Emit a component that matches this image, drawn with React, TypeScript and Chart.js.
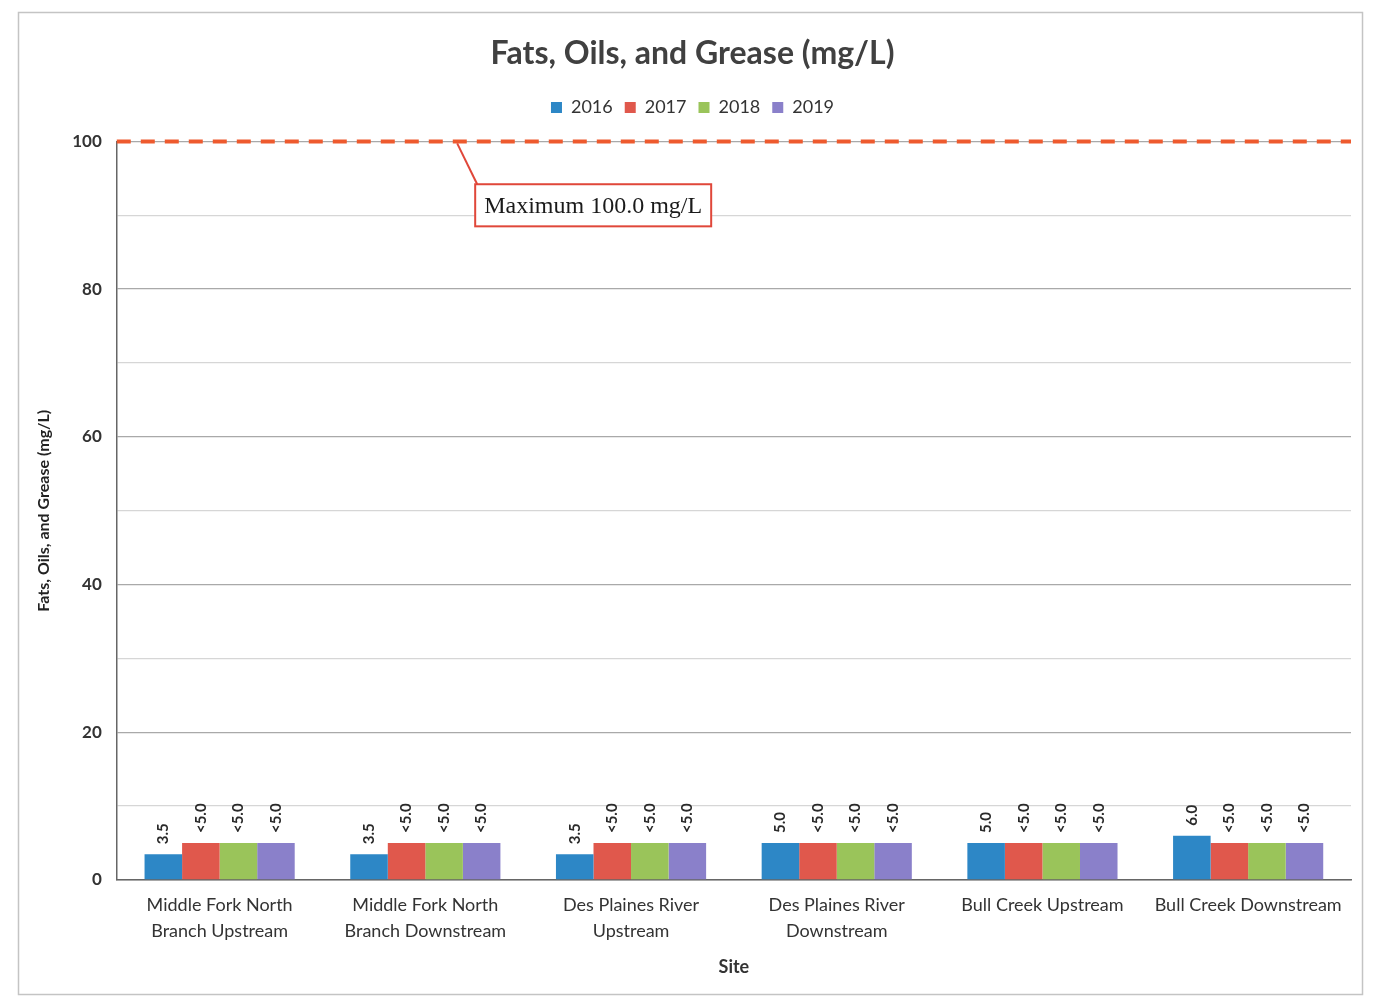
import React, { useEffect, useRef } from "react";
import { Chart, registerables } from "chart.js";

Chart.register(...registerables);

const SITES: string[][] = [
  ["Middle Fork North", "Branch Upstream"],
  ["Middle Fork North", "Branch Downstream"],
  ["Des Plaines River", "Upstream"],
  ["Des Plaines River", "Downstream"],
  ["Bull Creek Upstream"],
  ["Bull Creek Downstream"],
];
const YEARS = ["2016", "2017", "2018", "2019"];
const V2016 = [3.5, 3.5, 3.5, 5.0, 5.0, 6.0];
const V2017 = [5.0, 5.0, 5.0, 5.0, 5.0, 5.0];
const V2018 = [5.0, 5.0, 5.0, 5.0, 5.0, 5.0];
const V2019 = [5.0, 5.0, 5.0, 5.0, 5.0, 5.0];
const L2016 = ["3.5", "3.5", "3.5", "5.0", "5.0", "6.0"];
const L2017 = ["<5.0", "<5.0", "<5.0", "<5.0", "<5.0", "<5.0"];
const L2018 = ["<5.0", "<5.0", "<5.0", "<5.0", "<5.0", "<5.0"];
const L2019 = ["<5.0", "<5.0", "<5.0", "<5.0", "<5.0", "<5.0"];
const COLORS = ["#2D87C6", "#E0584C", "#9AC45A", "#8A80CA"];
const MAX_LIMIT = 100;
const MAX_LABEL = "Maximum 100.0 mg/L";
const Y_TICKS = [0, 20, 40, 60, 80, 100];

const VALUES = [V2016, V2017, V2018, V2019];
const LABELS = [L2016, L2017, L2018, L2019];

const legendMargin = {
  id: "legendMargin",
  beforeInit(chart: any) {
    const lg = chart.legend;
    const orig = lg.fit;
    lg.fit = function () {
      orig.bind(lg)();
      this.height += 15;
    };
  },
};

const extrasPlugin = {
  id: "extras",
  beforeDraw(chart: any) {
    const ctx = chart.ctx;
    ctx.save();
    ctx.fillStyle = "#ffffff";
    ctx.fillRect(0, 0, chart.width, chart.height);
    ctx.strokeStyle = "#c4c4c4";
    ctx.lineWidth = 1.5;
    ctx.strokeRect(18.5, 12.5, 1344, 982);
    ctx.restore();
  },
  afterDatasetsDraw(chart: any) {
    const ctx = chart.ctx;
    const ys = chart.scales.y;
    const xs = chart.scales.x;
    const area = chart.chartArea;
    ctx.save();
    // data labels
    ctx.font = "bold 15px Lato, 'Open Sans', sans-serif";
    ctx.fillStyle = "#2a2a2a";
    chart.data.datasets.forEach((ds: any, di: number) => {
      const meta = chart.getDatasetMeta(di);
      meta.data.forEach((bar: any, i: number) => {
        const txt = LABELS[di][i];
        ctx.save();
        ctx.translate(bar.x, bar.y - 10);
        ctx.rotate(-Math.PI / 2);
        ctx.textAlign = "left";
        ctx.textBaseline = "middle";
        ctx.fillText(txt, 0, 0);
        ctx.restore();
      });
    });
    // max line
    const yMax = ys.getPixelForValue(MAX_LIMIT);
    ctx.strokeStyle = "#EE5A2E";
    ctx.lineWidth = 4;
    ctx.setLineDash([14, 10]);
    ctx.beginPath();
    ctx.moveTo(area.left, yMax);
    ctx.lineTo(area.right, yMax);
    ctx.stroke();
    ctx.setLineDash([]);
    // callout
    const xA = (xs.getPixelForValue(1) + xs.getPixelForValue(2)) / 2 - 71;
    const bx = xA + 18;
    const by = ys.getPixelForValue(94.2);
    const bh = ys.getPixelForValue(88.5) - by;
    ctx.font = "24px 'Liberation Serif', 'DejaVu Serif', serif";
    const tw = ctx.measureText(MAX_LABEL).width;
    const bw = tw + 18;
    ctx.strokeStyle = "#E0473A";
    ctx.lineWidth = 2;
    ctx.beginPath();
    ctx.moveTo(xA, yMax + 2);
    ctx.lineTo(bx + 2, by);
    ctx.stroke();
    ctx.fillStyle = "#ffffff";
    ctx.fillRect(bx, by, bw, bh);
    ctx.strokeRect(bx, by, bw, bh);
    ctx.fillStyle = "#1a1a1a";
    ctx.textAlign = "left";
    ctx.textBaseline = "middle";
    ctx.fillText(MAX_LABEL, bx + 9, by + bh / 2 + 1);
    ctx.restore();
  },
};

export default function App() {
  const ref = useRef<HTMLCanvasElement | null>(null);
  useEffect(() => {
    if (!ref.current) return;
    const chart = new Chart(ref.current, {
      type: "bar",
      data: {
        labels: SITES,
        datasets: YEARS.map((y, i) => ({
          label: y,
          data: VALUES[i],
          backgroundColor: COLORS[i],
          borderWidth: 0,
          barPercentage: 1,
          categoryPercentage: 0.73,
        })),
      },
      options: {
        animation: false,
        responsive: false,
        layout: { padding: { left: 34, right: 28, top: 34, bottom: 21 } },
        plugins: {
          title: {
            display: true,
            text: "Fats, Oils, and Grease (mg/L)",
            color: "#404040",
            font: { family: "Lato, 'Open Sans', sans-serif", size: 32, weight: "bold" },
            padding: { top: 0, bottom: 14 },
          },
          legend: {
            display: true,
            position: "top",
            labels: {
              boxWidth: 11,
              boxHeight: 11,
              padding: 12,
              color: "#333333",
              font: { family: "Lato, 'Open Sans', sans-serif", size: 18 },
            },
          },
          tooltip: { enabled: false },
        },
        scales: {
          x: {
            grid: { display: false, drawTicks: false },
            border: { display: true, color: "#666666", width: 1.5 },
            ticks: {
              color: "#333333",
              padding: 13,
              maxRotation: 0,
              autoSkip: false,
              font: { family: "Lato, 'Open Sans', sans-serif", size: 18, lineHeight: 1.4 },
            },
            title: {
              display: true,
              text: "Site",
              color: "#333333",
              font: { family: "Lato, 'Open Sans', sans-serif", size: 18, weight: "bold" },
              padding: { top: 0, bottom: 0 },
            },
          },
          y: {
            min: 0,
            max: 100,
            ticks: {
              stepSize: 10,
              color: "#333333",
              padding: 15,
              font: { family: "Lato, 'Open Sans', sans-serif", size: 17, weight: "bold" },
              callback: (v: any) => (Y_TICKS.includes(Number(v)) ? String(v) : ""),
            },
            grid: {
              drawTicks: false,
              color: (c: any) => (c.tick && Number(c.tick.value) % 20 === 0 ? "#a9a9a9" : "#d6d6d6"),
              lineWidth: 1.3,
            },
            border: { display: true, color: "#666666", width: 1.5 },
            title: {
              display: true,
              text: "Fats, Oils, and Grease (mg/L)",
              color: "#222222",
              font: { family: "Lato, 'Open Sans', sans-serif", size: 16, weight: "bold" },
              padding: { top: 0, bottom: 4 },
            },
          },
        },
      },
      plugins: [legendMargin, extrasPlugin],
    });
    return () => chart.destroy();
  }, []);
  return (
    <div style={{ position: "fixed", left: 0, top: 0, width: 1379, height: 999 }}>
      <canvas ref={ref} width={1379} height={999} style={{ width: 1379, height: 999, display: "block" }} />
    </div>
  );
}
